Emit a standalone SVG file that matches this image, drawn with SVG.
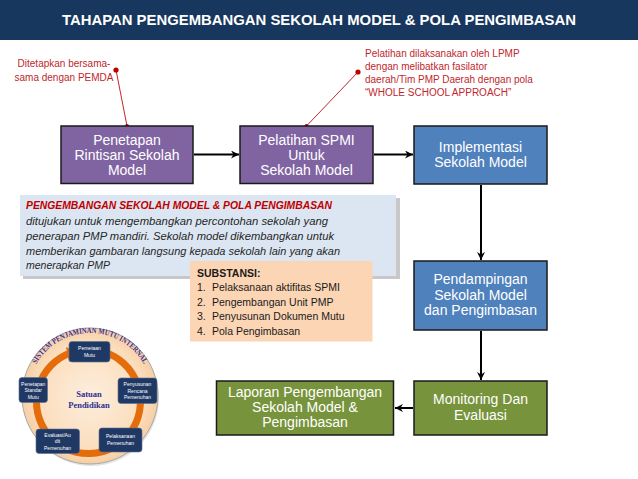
<svg xmlns="http://www.w3.org/2000/svg" width="638" height="479" viewBox="0 0 638 479">
<defs>
<style>
.box{stroke:#1a1a1a;stroke-width:1.5}
.purple{fill:#8064A2}
.blue{fill:#4F81BD}
.green{fill:#77933C}
.bt{font-family:"Liberation Sans",Arial,sans-serif;font-size:14px;fill:#ffffff;text-anchor:middle}
.ann{font-family:"Liberation Sans",Arial,sans-serif;font-size:10px;fill:#C0272D}
.conn{stroke:#000;stroke-width:2;fill:none}
.info{font-family:"Liberation Sans",Arial,sans-serif;font-size:10.5px;font-style:italic;fill:#262626}
.sub{font-family:"Liberation Sans",Arial,sans-serif;font-size:10.5px;fill:#1a1a1a}
.sb{fill:#1F3864;stroke:#5a6f96;stroke-width:0.6}
.st{font-family:"Liberation Sans",Arial,sans-serif;font-size:5px;fill:#ffffff;text-anchor:middle}
</style>
<marker id="arr" markerWidth="10" markerHeight="10" refX="8" refY="4" orient="auto" markerUnits="userSpaceOnUse">
<path d="M0,0 L8,4 L0,8 L2.5,4 z" fill="#000"/>
</marker>
<radialGradient id="cg" cx="50%" cy="50%" r="50%">
<stop offset="0" stop-color="#FDEEDD"/>
<stop offset="0.8" stop-color="#FBDDBC"/>
<stop offset="1" stop-color="#F6CFA4"/>
</radialGradient>
<path id="arcText" d="M35.7,365 A62,62 0 0 1 144.3,365"/>
</defs>

<rect x="0" y="0" width="638" height="40" fill="#17375E"/>
<text x="319" y="25" font-family="'Liberation Sans',Arial,sans-serif" font-size="14.5" font-weight="bold" fill="#fff" text-anchor="middle" textLength="514" lengthAdjust="spacingAndGlyphs">TAHAPAN PENGEMBANGAN SEKOLAH MODEL &amp; POLA PENGIMBASAN</text>

<g id="annotations">
<text class="ann" x="64" y="67" text-anchor="middle">Ditetapkan bersama-</text>
<text class="ann" x="64" y="81" text-anchor="middle">sama dengan PEMDA</text>
<line x1="116" y1="70" x2="127" y2="126" stroke="#C0272D" stroke-width="1"/>
<circle cx="116" cy="70" r="2.6" fill="#C00000"/>
<circle cx="127" cy="126" r="2" fill="#C00000"/>
<text class="ann" x="365" y="57">Pelatihan dilaksanakan oleh LPMP</text>
<text class="ann" x="365" y="70">dengan melibatkan fasilator</text>
<text class="ann" x="365" y="83">daerah/Tim PMP Daerah dengan pola</text>
<text class="ann" x="365" y="96">“WHOLE SCHOOL APPROACH”</text>
<line x1="358" y1="72" x2="306.5" y2="126" stroke="#C0272D" stroke-width="1"/>
<circle cx="358" cy="72" r="2.6" fill="#C00000"/>
<circle cx="306.5" cy="126" r="2" fill="#C00000"/>
</g>

<g id="connectors">
<line class="conn" x1="194" y1="154.5" x2="239" y2="154.5" marker-end="url(#arr)"/>
<line class="conn" x1="374" y1="154.5" x2="413" y2="154.5" marker-end="url(#arr)"/>
<line class="conn" x1="481" y1="185" x2="481" y2="260" marker-end="url(#arr)"/>
<line class="conn" x1="481" y1="331" x2="481" y2="380" marker-end="url(#arr)"/>
<line class="conn" x1="413" y1="408" x2="395" y2="408" marker-end="url(#arr)"/>
</g>

<g id="n1">
<rect class="box purple" x="61" y="126" width="132" height="57.5"/>
<text class="bt" x="127" y="145">Penetapan</text>
<text class="bt" x="127" y="160">Rintisan Sekolah</text>
<text class="bt" x="127" y="175">Model</text>
</g>
<g id="n2">
<rect class="box purple" x="240" y="126" width="133" height="57.5"/>
<text class="bt" x="306.5" y="145">Pelatihan SPMI</text>
<text class="bt" x="306.5" y="160">Untuk</text>
<text class="bt" x="306.5" y="175">Sekolah Model</text>
</g>
<g id="n3">
<rect class="box blue" x="414" y="126" width="133" height="58"/>
<text class="bt" x="480.5" y="152">Implementasi</text>
<text class="bt" x="480.5" y="167">Sekolah Model</text>
</g>
<g id="n4">
<rect class="box blue" x="414" y="261" width="133" height="69"/>
<text class="bt" x="480.5" y="284">Pendampingan</text>
<text class="bt" x="480.5" y="299.5">Sekolah Model</text>
<text class="bt" x="480.5" y="315">dan Pengimbasan</text>
</g>
<g id="n5">
<rect class="box green" x="414" y="381" width="133" height="54"/>
<text class="bt" x="480.5" y="404">Monitoring Dan</text>
<text class="bt" x="480.5" y="420">Evaluasi</text>
</g>
<g id="n6">
<rect class="box green" x="216.5" y="381" width="177" height="54"/>
<text class="bt" x="305" y="397">Laporan Pengembangan</text>
<text class="bt" x="305" y="412">Sekolah Model &amp;</text>
<text class="bt" x="305" y="427">Pengimbasan</text>
</g>

<g id="info">
<rect x="23" y="198" width="377" height="81" fill="#9a9a9a" opacity="0.55"/>
<rect x="20" y="195" width="376" height="81" fill="#DCE6F2"/>
<text x="26" y="209" font-family="'Liberation Sans',Arial,sans-serif" font-size="10px" font-weight="bold" font-style="italic" fill="#C00000" textLength="306" lengthAdjust="spacingAndGlyphs">PENGEMBANGAN SEKOLAH MODEL &amp; POLA PENGIMBASAN</text>
<text class="info" x="26" y="225" textLength="302" lengthAdjust="spacingAndGlyphs">ditujukan untuk mengembangkan percontohan sekolah yang</text>
<text class="info" x="26" y="240" textLength="308" lengthAdjust="spacingAndGlyphs">penerapan PMP mandiri. Sekolah model dikembangkan untuk</text>
<text class="info" x="26" y="254.5" textLength="314" lengthAdjust="spacingAndGlyphs">memberikan gambaran langsung kepada sekolah lain yang akan</text>
<text class="info" x="26" y="269">menerapkan PMP</text>
</g>

<g id="substansi">
<rect x="190" y="261" width="182.5" height="80.5" fill="#FCD5B5"/>
<text class="sub" x="197" y="276.5" font-weight="bold">SUBSTANSI:</text>
<text class="sub" x="197" y="291">1.</text><text class="sub" x="212" y="291">Pelaksanaan aktifitas SPMI</text>
<text class="sub" x="197" y="305.5">2.</text><text class="sub" x="212" y="305.5">Pengembangan Unit PMP</text>
<text class="sub" x="197" y="320">3.</text><text class="sub" x="212" y="320">Penyusunan Dokumen Mutu</text>
<text class="sub" x="197" y="334.5">4.</text><text class="sub" x="212" y="334.5">Pola Pengimbasan</text>
</g>

<g id="spmi-circle">
<circle cx="91" cy="398" r="68" fill="#c8c8c8" opacity="0.5"/>
<circle cx="90" cy="396" r="68" fill="url(#cg)" stroke="#a8a8a8" stroke-width="1"/>
<path d="M104,352 A52,52 0 1 1 70,353" fill="none" stroke="#E46C0A" stroke-width="7"/>
<path d="M66,347 L80,353 L69,362 z" fill="#E46C0A"/>
<text font-family="'Liberation Serif','Times New Roman',serif" font-size="8" font-weight="bold" fill="#3A2F96"><textPath href="#arcText" startOffset="50%" text-anchor="middle" textLength="130" lengthAdjust="spacingAndGlyphs">SISTEM PENJAMINAN MUTU INTERNAL</textPath></text>
<text x="89" y="397" font-family="'Liberation Serif','Times New Roman',serif" font-size="8.5" font-weight="bold" fill="#2E3192" text-anchor="middle">Satuan</text>
<text x="89" y="408" font-family="'Liberation Serif','Times New Roman',serif" font-size="8.5" font-weight="bold" fill="#2E3192" text-anchor="middle">Pendidikan</text>
<g id="s1"><rect class="sb" x="69" y="341.5" width="41" height="20.5" rx="3"/><text class="st" x="89.5" y="350">Pemetaan</text><text class="st" x="89.5" y="357">Mutu</text></g>
<g id="s2"><rect class="sb" x="118" y="378" width="39" height="25.5" rx="3"/><text class="st" x="137.5" y="386">Penyusunan</text><text class="st" x="137.5" y="392.5">Rencana</text><text class="st" x="137.5" y="399">Pemenuhan</text></g>
<g id="s3"><rect class="sb" x="99" y="428" width="43" height="24" rx="3"/><text class="st" x="120.5" y="438">Pelaksanaan</text><text class="st" x="120.5" y="445">Pemenuhan</text></g>
<g id="s4"><rect class="sb" x="36" y="429" width="43.5" height="24.5" rx="3"/><text class="st" x="57.5" y="436.5">Evaluasi/Au</text><text class="st" x="57.5" y="443">dit</text><text class="st" x="57.5" y="449.5">Pemenuhan</text></g>
<g id="s5"><rect class="sb" x="19" y="377.5" width="28.5" height="25" rx="3"/><text class="st" x="33.2" y="385.5">Penetapan</text><text class="st" x="33.2" y="392">Standar</text><text class="st" x="33.2" y="398.5">Mutu</text></g>
</g>
</svg>
